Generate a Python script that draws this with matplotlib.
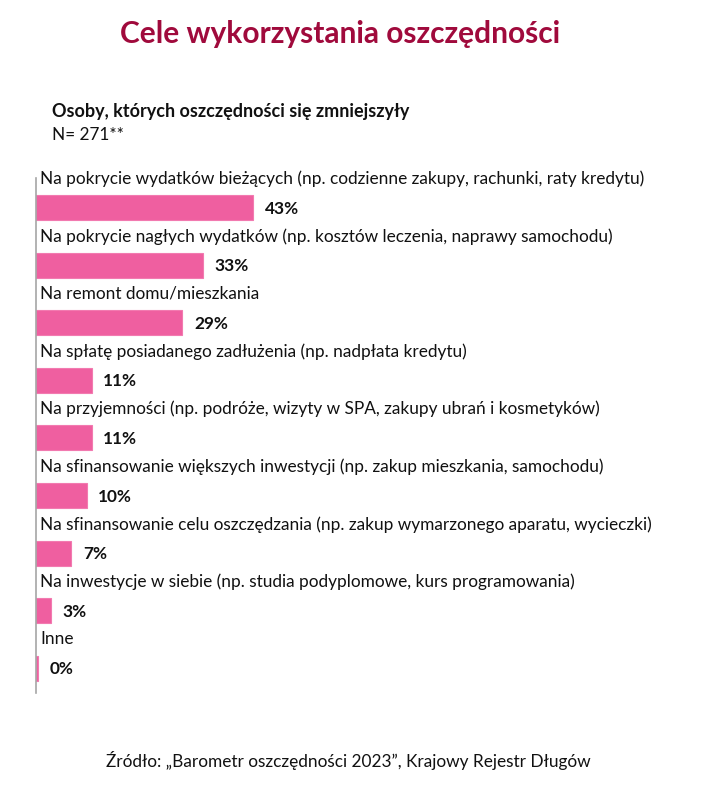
import matplotlib.pyplot as plt

categories = [
    "Na pokrycie wydatków bieżących (np. codzienne zakupy, rachunki, raty kredytu)",
    "Na pokrycie nagłych wydatków (np. kosztów leczenia, naprawy samochodu)",
    "Na remont domu/mieszkania",
    "Na spłatę posiadanego zadłużenia (np. nadpłata kredytu)",
    "Na przyjemności (np. podróże, wizyty w SPA, zakupy ubrań i kosmetyków)",
    "Na sfinansowanie większych inwestycji (np. zakup mieszkania, samochodu)",
    "Na sfinansowanie celu oszczędzania (np. zakup wymarzonego aparatu, wycieczki)",
    "Na inwestycje w siebie (np. studia podyplomowe, kurs programowania)",
    "Inne",
]
values = [43, 33, 29, 11, 11, 10, 7, 3, 0.3]
labels = ["43%", "33%", "29%", "11%", "11%", "10%", "7%", "3%", "0%"]

plt.rcParams['font.family'] = ['Lato', 'DejaVu Sans']

W, H = 706, 795
fig = plt.figure(figsize=(W / 100, H / 100), dpi=100)

# axes placed in pixel terms: left 36px, 5.05 px per percent, top 178, bottom 693
ax = fig.add_axes([36 / W, 1 - 693 / H, 505 / W, (693 - 178) / H])
ax.set_xlim(0, 100)
ax.set_ylim(8.43, -0.512)

pos = list(range(len(categories)))
ax.barh(pos, values, height=0.434, color='#EF5FA0', edgecolor='#F27AB0', linewidth=0.8)

for i, (cat, v, lab) in enumerate(zip(categories, values, labels)):
    ax.text(0.8, i - 0.5, cat, fontsize=12.4, va='center', ha='left', color='#111111')
    ax.text(v + 2.3, i + 0.02, lab, fontsize=12.4, fontweight='bold', va='center', ha='left', color='#111111')

for s in ['top', 'right', 'bottom']:
    ax.spines[s].set_visible(False)
ax.spines['left'].set_color('#A6A6A6')
ax.spines['left'].set_linewidth(1.2)
ax.set_xticks([])
ax.set_yticks([])

fig.text(340 / W, 1 - 34 / H, "Cele wykorzystania oszczędności", fontsize=21.5, fontweight='bold',
         color='#A00A3C', ha='center', va='center')
fig.text(52 / W, 1 - 111 / H, "Osoby, których oszczędności się zmniejszyły", fontsize=13,
         fontweight='bold', color='#111111', ha='left', va='center')
fig.text(52 / W, 1 - 135 / H, "N= 271**", fontsize=12.4, color='#111111', ha='left', va='center')
fig.text(348 / W, 1 - 760 / H, "Źródło: „Barometr oszczędności 2023”, Krajowy Rejestr Długów", fontsize=12.4,
         color='#111111', ha='center', va='center')

fig.savefig('out.png', dpi=100, facecolor='white')
